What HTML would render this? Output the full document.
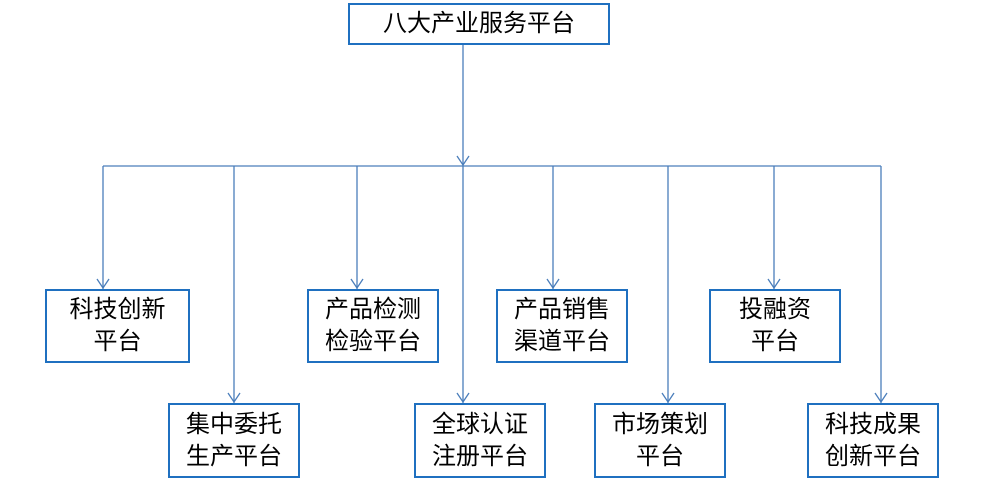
<!DOCTYPE html>
<html><head><meta charset="utf-8"><style>
body{margin:0;width:985px;height:481px;background:#fff;position:relative;overflow:hidden;font-family:"Liberation Sans","Noto Sans CJK SC","WenQuanYi Zen Hei",sans-serif;}
.b{position:absolute;box-sizing:border-box;border:2px solid #1f70c0;background:#fff;color:#000;font-size:24px;line-height:32px;text-align:center;display:flex;align-items:center;justify-content:center;}
svg{position:absolute;left:0;top:0}
</style></head><body>
<svg width="985" height="481">
<g stroke="#4a7ebb" stroke-width="1.3" fill="none">
<line x1="463" y1="44" x2="463" y2="166"/>
<line x1="103" y1="166" x2="881" y2="166"/>
<line x1="103" y1="166" x2="103" y2="289"/>
<line x1="234" y1="166" x2="234" y2="403"/>
<line x1="357" y1="166" x2="357" y2="289"/>
<line x1="463" y1="166" x2="463" y2="403"/>
<line x1="553" y1="166" x2="553" y2="289"/>
<line x1="668" y1="166" x2="668" y2="403"/>
<line x1="774" y1="166" x2="774" y2="289"/>
<line x1="881" y1="166" x2="881" y2="403"/>
<polyline points="457,156 463,165 469,156"/>
<polyline points="97,279 103,288 109,279"/>
<polyline points="351,279 357,288 363,279"/>
<polyline points="547,279 553,288 559,279"/>
<polyline points="768,279 774,288 780,279"/>
<polyline points="228,393 234,402 240,393"/>
<polyline points="457,393 463,402 469,393"/>
<polyline points="662,393 668,402 674,393"/>
<polyline points="875,393 881,402 887,393"/>
</g></svg>
<div class="b" style="left:348px;top:3px;width:262px;height:42px;">八大产业服务平台</div>
<div class="b" style="left:45px;top:289px;width:145px;height:74px;">科技创新<br>平台</div>
<div class="b" style="left:307px;top:289px;width:132px;height:74px;">产品检测<br>检验平台</div>
<div class="b" style="left:496px;top:289px;width:132px;height:74px;">产品销售<br>渠道平台</div>
<div class="b" style="left:709px;top:289px;width:132px;height:74px;">投融资<br>平台</div>
<div class="b" style="left:168px;top:403px;width:132px;height:75px;">集中委托<br>生产平台</div>
<div class="b" style="left:414px;top:403px;width:132px;height:75px;">全球认证<br>注册平台</div>
<div class="b" style="left:594px;top:403px;width:132px;height:75px;">市场策划<br>平台</div>
<div class="b" style="left:807px;top:403px;width:132px;height:75px;">科技成果<br>创新平台</div>
</body></html>
